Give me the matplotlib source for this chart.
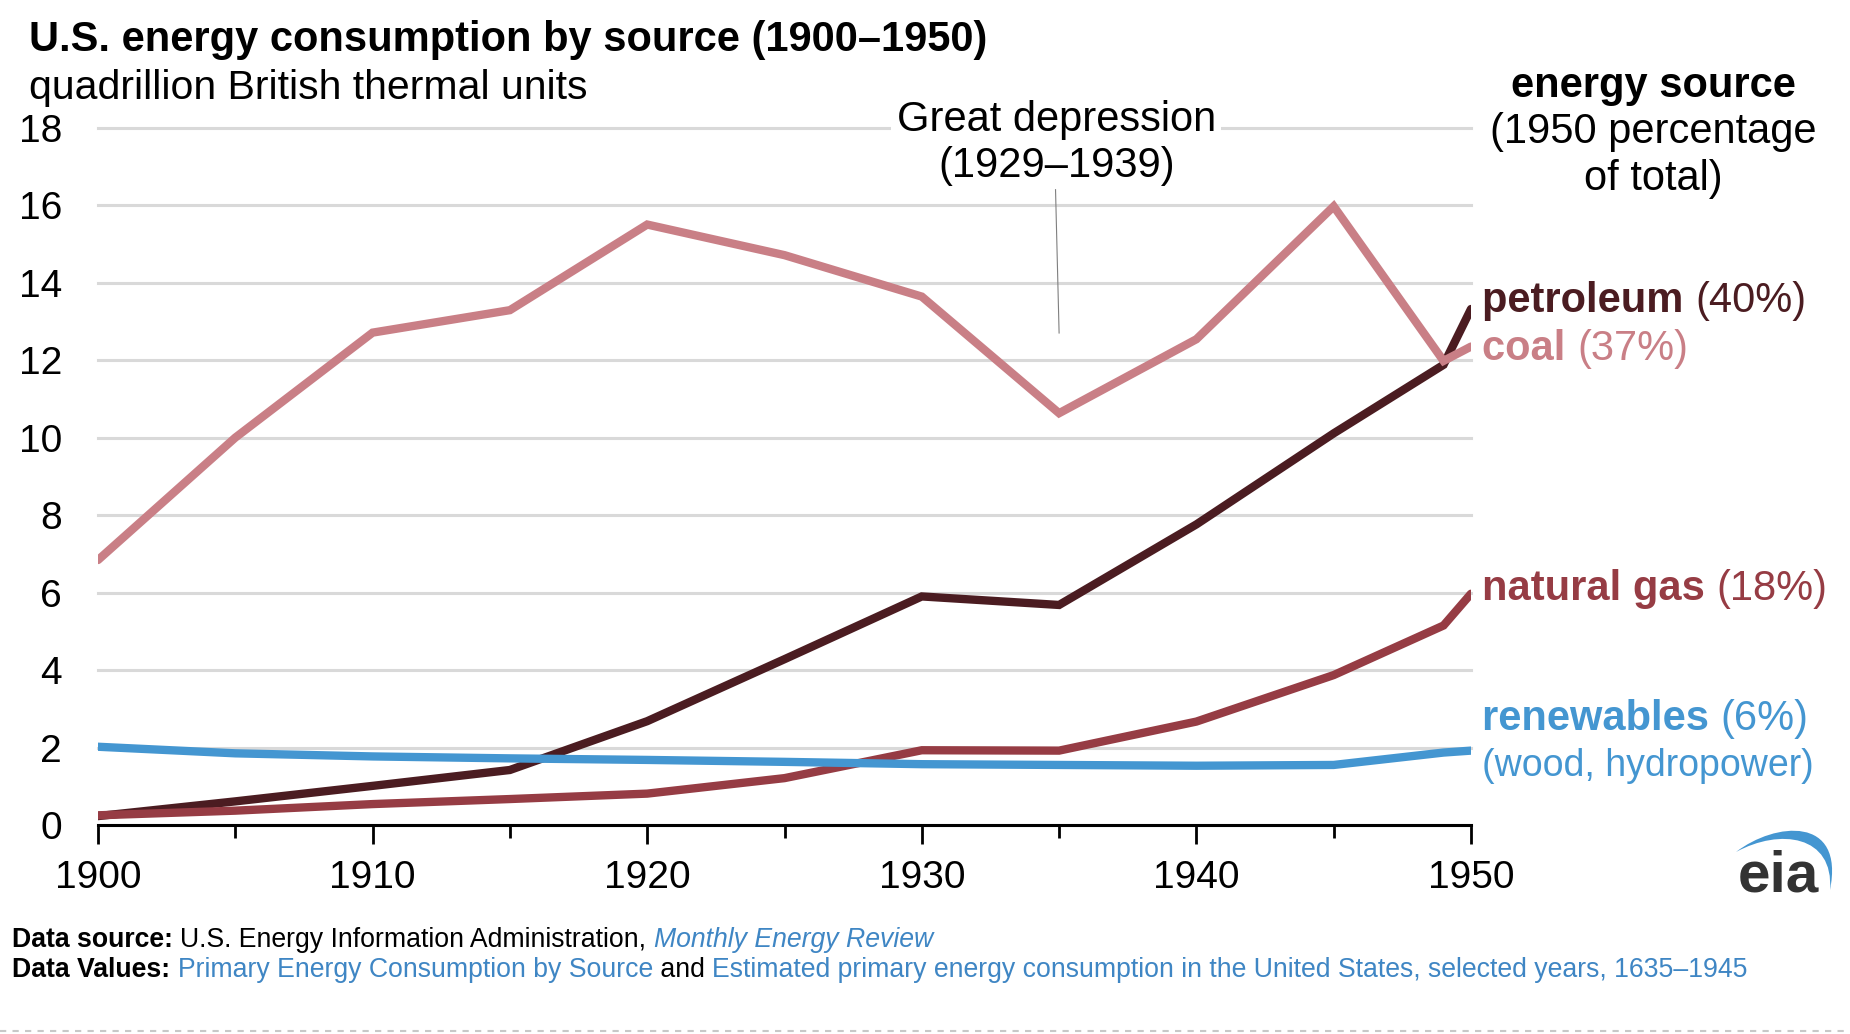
import numpy as np
import matplotlib
matplotlib.use("Agg")
import matplotlib.pyplot as plt
from matplotlib.lines import Line2D
from matplotlib.path import Path
from matplotlib.patches import PathPatch

plt.rcParams['font.family'] = ['Liberation Sans', 'DejaVu Sans']

# data (quadrillion Btu)
years = [1900, 1905, 1910, 1915, 1920, 1925, 1930, 1935, 1940, 1945, 1949, 1950]
coal = [6.84, 10.00, 12.71, 13.29, 15.50, 14.71, 13.64, 10.63, 12.54, 15.97, 11.98, 12.35]
petroleum = [0.23, 0.61, 1.01, 1.42, 2.68, 4.28, 5.90, 5.68, 7.76, 10.11, 11.88, 13.32]
natural_gas = [0.25, 0.37, 0.54, 0.67, 0.81, 1.21, 1.93, 1.92, 2.67, 3.87, 5.15, 5.97]
renewables = [2.02, 1.85, 1.77, 1.72, 1.68, 1.63, 1.57, 1.55, 1.53, 1.55, 1.87, 1.92]

labels = ["petroleum", "coal", "natural gas", "renewables"]
shares = ["(40%)", "(37%)", "(18%)", "(6%)"]

c_pet = "#4b1c21"
c_coal = "#c97f86"
c_gas = "#963c44"
c_ren = "#4496d1"
c_link = "#3f86c4"

W, H = 1850, 1034
fig = plt.figure(figsize=(W / 100, H / 100), dpi=100)
ax = fig.add_axes([98 / W, (H - 825) / H, (1471 - 98) / W, (825 - 127.7) / H])

for vals, cc in [(petroleum, c_pet), (coal, c_coal), (natural_gas, c_gas), (renewables, c_ren)]:
    ax.plot(years, vals, color=cc, lw=6, solid_capstyle='round', solid_joinstyle='miter')

ax.set_xlim(1900, 1950)
ax.set_ylim(0, 18)
ax.set_yticks(range(0, 19, 2))
ax.set_xticks(range(1900, 1951, 10))
ax.set_xticks(range(1905, 1950, 10), minor=True)
ax.set_axisbelow(True)
ax.yaxis.grid(True, color="#d9d9d9", lw=2.2)
for gl in ax.get_ygridlines():
    gl.set_clip_on(False)
for s in ["left", "right", "top"]:
    ax.spines[s].set_visible(False)
ax.spines["bottom"].set_linewidth(2.2)
ax.spines["bottom"].set_zorder(5)
ax.tick_params(axis='y', length=0, pad=26, labelsize=28)
ax.tick_params(axis='x', which='major', length=13.5, width=2, pad=11.5, labelsize=28)
ax.tick_params(axis='x', which='minor', length=9, width=2)

# great depression annotation
ax.text(1934.9, 17.6, "Great depression\n(1929\u20131939)", ha='center', va='center',
        fontsize=30, linespacing=1.2, zorder=6,
        bbox=dict(facecolor='white', edgecolor='none', pad=4))
ax.plot([1934.87, 1935.0], [16.4, 12.7], color="#7f7f7f", lw=0.8, zorder=6)

renderer = fig.canvas.get_renderer()


def px(x, y):
    return x / W, 1 - y / H


def chain(x, y, parts, size):
    for s, props in parts:
        t = fig.text(*px(x, y), s, va='center', ha='left', fontsize=size, **props)
        x += t.get_window_extent(renderer).width


# title
fig.text(*px(29, 40), "U.S. energy consumption by source (1900\u20131950)",
         fontsize=30, fontweight='bold', va='center', ha='left')
fig.text(*px(29, 88), "quadrillion British thermal units", fontsize=29.5, va='center', ha='left')

# right side labels
fig.text(*px(1653, 86), "energy source", fontsize=30, fontweight='bold', ha='center', va='center')
fig.text(*px(1653, 132), "(1950 percentage", fontsize=30, ha='center', va='center')
fig.text(*px(1653, 179), "of total)", fontsize=30, ha='center', va='center')
ys = [301, 349, 589, 719]
cols = [c_pet, c_coal, c_gas, c_ren]
for lab, sh, yy, cc in zip(labels, shares, ys, cols):
    chain(1482, yy, [(lab + " ", dict(fontweight='bold', color=cc)), (sh, dict(color=cc))], 30)
fig.text(*px(1482, 766), "(wood, hydropower)", fontsize=27, color=c_ren, va='center', ha='left')

# footer
chain(12, 940, [("Data source: ", dict(fontweight='bold', color='black')),
                ("U.S. Energy Information Administration, ", dict(color='black')),
                ("Monthly Energy Review", dict(color=c_link, style='italic'))], 19.2)
chain(12, 970, [("Data Values: ", dict(fontweight='bold', color='black')),
                ("Primary Energy Consumption by Source", dict(color=c_link)),
                (" and ", dict(color='black')),
                ("Estimated primary energy consumption in the United States, selected years, 1635\u20131945",
                 dict(color=c_link))], 19.2)

fig.add_artist(Line2D([0, 1], [1 - 1031 / H] * 2, transform=fig.transFigure,
                      color="#c8c8c8", lw=1.5, ls=(0, (3, 3))))

# eia logo
fig.text(*px(1778, 877), "eia", fontsize=42, fontweight='bold', color="#333333",
         ha='center', va='center')
pts = [(1736, 852), (1775, 822), (1845, 815), (1830, 890),
       (1834, 835), (1780, 828), (1736, 852)]
codes = [Path.MOVETO, Path.CURVE4, Path.CURVE4, Path.CURVE4,
         Path.CURVE4, Path.CURVE4, Path.CURVE4]
verts = [(x, H - y) for x, y in pts]
fig.add_artist(PathPatch(Path(verts, codes), facecolor=c_ren, edgecolor='none', transform=None))

fig.savefig("out.png", dpi=100)
